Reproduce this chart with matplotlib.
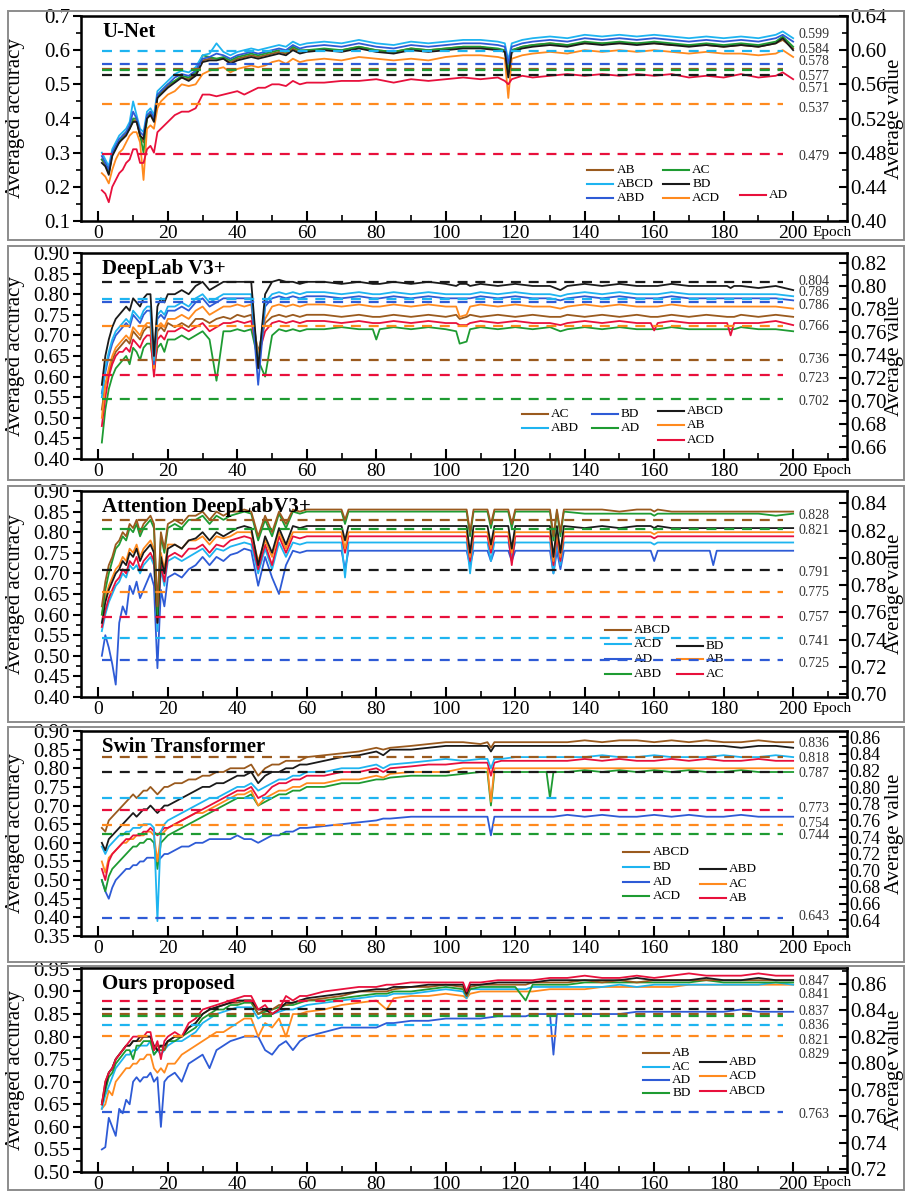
import matplotlib
matplotlib.use('Agg')
import matplotlib.pyplot as plt
from matplotlib.patches import Rectangle
from matplotlib.ticker import MultipleLocator, FormatStrFormatter

plt.rcParams['font.family'] = 'Liberation Serif'

W, H = 905, 1191

# first 60 epochs are shared, later epochs are listed per panel (they hold the dips)
epochs_head = list(range(1, 21)) + list(range(22, 61, 2))

COL = {
    'brown': '#9A5A1E', 'green': '#1E9B32', 'cyan': '#1EB4F0', 'black': '#1A1A1A',
    'blue': '#2E5BD6', 'orange': '#FF8A1E', 'red': '#E8103C',
}

# ---------------- U-Net ----------------
unet_late = [65, 70, 75, 80, 85, 90, 95, 100, 105, 110, 115, 117, 118, 119, 122, 125, 130, 135,
             140, 145, 150, 155, 160, 165, 170, 175, 180, 185, 190, 195, 197, 200]
unet_ABCD = [.30,.28,.26,.31,.33,.35,.36,.37,.39,.45,.41,.37,.36,.42,.43,.41,.48,.49,.50,.51,
             .53,.54,.535,.55,.585,.59,.62,.595,.585,.595,.60,.605,.60,.605,.61,.615,.61,.625,.615,.62,
             .625,.62,.63,.62,.615,.625,.62,.625,.63,.63,.625,.62,.57,.62,.63,.635,.64,.635,.645,.64,.645,.64,.645,.64,.635,.64,.635,.64,.635,.645,.655,.635]
unet_ABD = [.29,.27,.25,.30,.32,.34,.35,.36,.38,.42,.40,.36,.35,.41,.42,.40,.47,.48,.49,.50,
            .52,.53,.525,.54,.575,.58,.59,.585,.575,.585,.59,.595,.59,.595,.60,.605,.60,.615,.605,.61,
            .615,.61,.62,.61,.605,.615,.61,.615,.62,.62,.615,.61,.56,.61,.62,.625,.63,.625,.635,.63,.635,.63,.635,.63,.625,.63,.625,.63,.625,.635,.645,.625]
unet_AC = [.28,.27,.24,.30,.32,.33,.35,.36,.37,.40,.40,.35,.30,.40,.42,.40,.46,.48,.49,.50,
           .51,.525,.52,.535,.585,.58,.575,.58,.57,.58,.585,.59,.585,.59,.595,.60,.595,.61,.60,.60,
           .605,.60,.61,.60,.595,.605,.60,.605,.61,.61,.605,.60,.54,.60,.61,.615,.62,.615,.625,.62,.625,.62,.625,.62,.615,.62,.615,.62,.615,.625,.64,.61]
unet_BD = [.27,.26,.235,.29,.31,.33,.34,.35,.37,.39,.39,.35,.34,.40,.41,.39,.46,.47,.48,.49,
           .505,.52,.51,.525,.565,.57,.57,.575,.56,.57,.575,.58,.575,.58,.585,.59,.585,.60,.59,.595,
           .60,.595,.605,.595,.59,.60,.595,.60,.605,.605,.60,.595,.52,.595,.605,.61,.615,.61,.62,.615,.62,.615,.62,.615,.61,.615,.61,.615,.61,.62,.635,.60]
unet_AB = [.28,.265,.24,.295,.315,.33,.345,.355,.37,.395,.395,.35,.33,.405,.415,.395,.465,.475,.485,.495,
           .51,.52,.515,.53,.57,.575,.575,.575,.565,.575,.58,.585,.58,.585,.59,.595,.59,.605,.595,.60,
           .60,.60,.61,.60,.595,.605,.60,.605,.61,.61,.60,.60,.53,.60,.61,.615,.62,.615,.62,.62,.62,.62,.62,.615,.615,.615,.61,.615,.61,.62,.63,.605]
unet_ACD = [.24,.23,.21,.25,.28,.30,.31,.33,.35,.36,.36,.33,.22,.37,.38,.37,.43,.45,.46,.47,
            .48,.50,.495,.50,.53,.54,.545,.55,.535,.545,.55,.555,.55,.555,.565,.57,.56,.575,.565,.57,
            .575,.57,.58,.575,.57,.575,.57,.58,.585,.585,.58,.575,.46,.575,.585,.59,.595,.59,.60,.595,.60,.595,.60,.595,.59,.595,.59,.59,.585,.59,.60,.58]
unet_AD = [.19,.18,.155,.20,.22,.24,.25,.27,.28,.31,.31,.27,.27,.31,.32,.30,.36,.37,.38,.39,
           .41,.42,.42,.43,.47,.47,.465,.47,.475,.48,.47,.48,.49,.49,.50,.50,.495,.51,.50,.505,
           .505,.51,.51,.515,.505,.515,.51,.515,.52,.515,.52,.51,.50,.515,.525,.52,.525,.53,.525,.53,.525,.53,.525,.53,.52,.525,.52,.53,.52,.525,.535,.515]
unet_avg_names = ['ABCD', 'ABD', 'AB', 'AC', 'BD', 'ACD', 'AD']
unet_avg_vals = [0.599, 0.584, 0.578, 0.577, 0.571, 0.537, 0.479]

# ---------------- DeepLab V3+ ----------------
dl_late = [65, 70, 75, 79, 80, 81, 85, 90, 95, 100, 103, 104, 106, 107, 110, 115, 120, 125, 130,
           133, 135, 140, 145, 150, 155, 159, 160, 161, 165, 170, 175, 181, 182, 183, 185, 190, 195, 200]
dl_ABCD = [.58,.65,.69,.72,.74,.75,.76,.77,.76,.79,.78,.77,.79,.80,.80,.65,.77,.79,.78,.80,
           .80,.81,.80,.82,.83,.81,.82,.83,.83,.83,.83,.83,.62,.80,.83,.835,.83,.83,.825,.83,
           .83,.825,.83,.825,.825,.825,.83,.825,.83,.825,.82,.825,.825,.82,.825,.82,.825,.82,.82,.81,.82,.825,.82,.825,.82,.82,.82,.82,.825,.82,.82,.82,.815,.82,.82,.815,.82,.81]
dl_ABD = [.55,.62,.66,.69,.71,.72,.73,.74,.73,.76,.75,.74,.76,.77,.77,.64,.75,.76,.75,.77,
          .77,.78,.77,.79,.80,.78,.79,.80,.80,.80,.80,.80,.63,.78,.80,.805,.80,.805,.80,.805,
          .805,.80,.805,.80,.80,.80,.805,.80,.805,.80,.80,.80,.80,.80,.805,.80,.805,.80,.80,.795,.80,.805,.80,.805,.80,.80,.80,.80,.805,.80,.80,.80,.80,.80,.80,.80,.80,.795]
dl_BD = [.56,.61,.65,.68,.70,.71,.72,.73,.72,.75,.74,.73,.75,.76,.76,.63,.74,.75,.74,.76,
         .76,.77,.76,.78,.79,.77,.78,.79,.79,.79,.79,.79,.58,.77,.79,.795,.79,.795,.79,.795,
         .795,.79,.795,.79,.79,.79,.795,.79,.795,.79,.79,.79,.79,.79,.795,.79,.795,.79,.79,.785,.79,.795,.79,.795,.79,.79,.79,.79,.795,.79,.79,.79,.79,.79,.79,.79,.79,.785]
dl_AB = [.50,.58,.62,.65,.67,.68,.69,.70,.69,.72,.71,.70,.72,.73,.73,.62,.72,.73,.72,.74,
         .74,.75,.74,.76,.77,.75,.76,.77,.77,.775,.77,.775,.65,.74,.77,.775,.77,.775,.77,.775,
         .775,.77,.775,.77,.77,.77,.775,.77,.775,.77,.77,.745,.75,.77,.775,.77,.775,.77,.77,.765,.77,.775,.77,.775,.77,.77,.77,.77,.775,.77,.77,.77,.77,.77,.77,.77,.77,.765]
dl_AC = [.52,.58,.61,.64,.66,.67,.68,.69,.68,.71,.70,.69,.71,.72,.72,.61,.71,.72,.71,.73,
         .72,.73,.72,.74,.74,.73,.74,.745,.74,.75,.745,.75,.66,.73,.745,.75,.745,.75,.745,.75,
         .75,.745,.75,.745,.745,.745,.75,.745,.75,.745,.75,.74,.745,.75,.745,.75,.745,.75,.745,.745,.75,.745,.75,.745,.75,.745,.745,.745,.75,.745,.75,.745,.745,.745,.75,.745,.75,.745]
dl_ACD = [.48,.55,.60,.63,.65,.66,.66,.67,.66,.69,.68,.67,.69,.70,.70,.60,.69,.70,.69,.71,
          .71,.72,.71,.72,.73,.71,.72,.73,.73,.735,.73,.735,.65,.71,.73,.735,.73,.735,.73,.735,
          .735,.73,.735,.73,.73,.73,.735,.73,.735,.73,.73,.725,.725,.73,.735,.73,.735,.73,.73,.725,.73,.735,.73,.735,.73,.73,.712,.73,.735,.73,.73,.73,.70,.73,.73,.73,.735,.725]
dl_AD = [.44,.52,.57,.60,.62,.63,.64,.65,.63,.67,.66,.64,.67,.68,.68,.62,.67,.68,.66,.69,
         .69,.70,.69,.70,.71,.69,.59,.71,.71,.715,.71,.715,.64,.60,.70,.715,.71,.715,.71,.715,
         .715,.72,.715,.715,.69,.715,.72,.715,.72,.715,.71,.68,.685,.715,.72,.715,.72,.715,.72,.71,.715,.72,.715,.72,.715,.715,.715,.715,.72,.715,.715,.715,.715,.715,.72,.715,.715,.71]
dl_avg_names = ['ABCD', 'ABD', 'BD', 'AB', 'AC', 'ACD', 'AD']
dl_avg_vals = [0.804, 0.789, 0.786, 0.766, 0.736, 0.723, 0.702]

# ---------------- Attention DeepLabV3+ ----------------
at_late = [65, 70, 71, 72, 75, 80, 85, 90, 95, 100, 105, 106, 107, 108, 112, 113, 114, 118, 119, 120,
           125, 130, 131, 132, 133, 134, 140, 145, 150, 155, 159, 160, 161, 165, 170, 176, 177, 178,
           185, 190, 195, 200]
at_ABCD = [.62,.68,.72,.74,.77,.78,.80,.79,.82,.81,.83,.80,.82,.83,.84,.82,.62,.80,.76,.82,
           .83,.82,.84,.84,.85,.83,.85,.84,.85,.85,.855,.85,.79,.84,.80,.85,.82,.855,.85,.855,
           .855,.855,.83,.855,.855,.855,.855,.855,.855,.855,.855,.855,.80,.855,.855,.82,.855,.855,.82,.855,
           .855,.855,.79,.855,.80,.855,.855,.855,.85,.855,.855,.85,.855,.85,.85,.85,.85,.85,.85,.85,.85,.85]
at_ABD = [.60,.66,.70,.73,.76,.77,.79,.78,.81,.80,.82,.79,.81,.82,.83,.81,.60,.79,.75,.81,
          .82,.81,.83,.83,.84,.82,.84,.83,.84,.845,.85,.845,.78,.83,.79,.845,.81,.85,.845,.85,
          .85,.85,.82,.85,.85,.85,.85,.85,.85,.85,.85,.85,.79,.85,.85,.81,.85,.85,.81,.85,
          .85,.85,.78,.85,.79,.85,.845,.845,.845,.845,.845,.84,.845,.845,.845,.845,.845,.845,.845,.845,.84,.845]
at_BD = [.58,.63,.66,.68,.70,.71,.73,.72,.75,.74,.76,.73,.75,.76,.77,.75,.58,.74,.70,.76,
         .77,.76,.78,.785,.80,.78,.80,.79,.80,.81,.815,.81,.72,.79,.75,.81,.77,.815,.81,.815,
         .815,.815,.78,.815,.815,.815,.815,.815,.815,.815,.815,.815,.75,.815,.815,.77,.815,.815,.76,.815,
         .815,.815,.74,.815,.75,.815,.81,.815,.81,.815,.815,.81,.815,.81,.81,.81,.81,.81,.81,.81,.81,.81]
at_AB = [.60,.64,.67,.69,.71,.72,.74,.73,.76,.75,.77,.74,.76,.77,.78,.76,.60,.75,.71,.77,
         .77,.76,.78,.78,.79,.77,.79,.785,.79,.80,.80,.80,.73,.78,.74,.80,.76,.80,.80,.80,
         .80,.80,.76,.80,.80,.80,.80,.80,.80,.80,.80,.80,.74,.80,.80,.76,.80,.80,.75,.80,
         .80,.80,.73,.80,.74,.80,.80,.80,.80,.80,.80,.795,.80,.80,.80,.80,.80,.80,.80,.80,.80,.80]
at_AC = [.57,.61,.64,.66,.68,.69,.71,.70,.73,.72,.74,.71,.73,.74,.75,.73,.58,.72,.68,.74,
         .75,.74,.76,.76,.77,.75,.77,.765,.78,.785,.79,.785,.71,.77,.72,.79,.75,.79,.785,.79,
         .79,.79,.75,.79,.79,.79,.79,.79,.79,.79,.79,.79,.73,.79,.79,.75,.79,.79,.72,.79,
         .79,.79,.72,.79,.73,.79,.79,.79,.79,.79,.79,.785,.79,.79,.79,.79,.79,.79,.79,.79,.79,.79]
at_ACD = [.56,.60,.63,.65,.67,.68,.70,.69,.72,.71,.72,.70,.72,.73,.74,.72,.56,.71,.67,.73,
          .74,.73,.74,.75,.76,.74,.76,.755,.765,.77,.775,.77,.70,.76,.71,.775,.74,.775,.77,.775,
          .775,.775,.69,.775,.775,.775,.775,.775,.775,.775,.775,.775,.70,.775,.775,.73,.775,.775,.74,.775,
          .775,.775,.70,.775,.72,.775,.775,.775,.775,.775,.775,.77,.775,.775,.775,.775,.775,.775,.775,.775,.775,.775]
at_AD = [.50,.55,.52,.48,.43,.58,.62,.60,.67,.65,.68,.64,.66,.68,.70,.67,.47,.66,.62,.69,
         .70,.69,.71,.72,.74,.72,.74,.73,.745,.75,.76,.755,.67,.74,.69,.65,.72,.755,.75,.755,
         .755,.755,.71,.755,.755,.755,.755,.755,.755,.755,.755,.755,.72,.755,.755,.73,.755,.755,.73,.755,
         .755,.755,.70,.755,.71,.755,.755,.755,.755,.755,.755,.73,.755,.755,.755,.755,.72,.755,.755,.755,.755,.755]
at_avg_names = ['ABCD', 'ABD', 'BD', 'AB', 'AC', 'ACD', 'AD']
at_avg_vals = [0.828, 0.821, 0.791, 0.775, 0.757, 0.741, 0.725]

# ---------------- Swin Transformer ----------------
sw_late = [65, 70, 75, 80, 82, 84, 90, 95, 100, 105, 110, 112, 113, 114, 116, 120, 125, 129, 130, 131,
           135, 140, 145, 150, 155, 160, 165, 170, 175, 180, 185, 190, 195, 200]
sw_ABCD = [.64,.63,.66,.67,.68,.69,.70,.71,.72,.73,.72,.73,.74,.74,.75,.74,.73,.74,.75,.75,
           .76,.76,.77,.77,.78,.78,.79,.79,.80,.80,.80,.81,.78,.80,.81,.81,.82,.82,.82,.83,
           .835,.84,.845,.855,.85,.855,.86,.865,.87,.87,.865,.87,.855,.87,.87,.87,.87,.87,.87,.87,
           .87,.875,.87,.875,.875,.87,.875,.87,.875,.87,.87,.875,.87,.87]
sw_ABD = [.60,.58,.61,.62,.63,.64,.65,.66,.67,.68,.67,.68,.69,.69,.70,.69,.68,.69,.70,.70,
          .71,.72,.73,.74,.75,.75,.76,.76,.77,.78,.78,.79,.76,.78,.79,.79,.80,.80,.81,.81,
          .82,.83,.835,.845,.835,.85,.85,.855,.86,.86,.86,.86,.845,.86,.86,.86,.86,.86,.86,.86,
          .86,.86,.86,.86,.86,.86,.86,.86,.86,.86,.855,.86,.86,.855]
sw_BD = [.59,.57,.59,.60,.61,.62,.62,.63,.63,.64,.64,.64,.65,.65,.65,.64,.39,.63,.65,.66,
         .67,.68,.69,.70,.71,.72,.72,.73,.74,.75,.75,.76,.74,.75,.76,.77,.77,.78,.78,.79,
         .79,.80,.80,.81,.80,.81,.815,.82,.825,.82,.825,.825,.80,.825,.825,.83,.83,.83,.83,.83,
         .83,.83,.835,.83,.83,.835,.83,.83,.83,.835,.83,.83,.835,.83]
sw_AB = [.53,.50,.55,.57,.58,.59,.60,.61,.61,.62,.62,.62,.63,.63,.64,.63,.62,.63,.64,.64,
         .65,.66,.67,.68,.69,.70,.71,.72,.73,.74,.74,.75,.72,.73,.75,.76,.76,.77,.77,.78,
         .78,.79,.79,.80,.79,.80,.805,.81,.81,.815,.815,.815,.78,.815,.82,.82,.82,.82,.82,.82,
         .82,.825,.82,.825,.82,.82,.825,.82,.825,.82,.82,.825,.82,.82]
sw_AC = [.55,.52,.56,.57,.58,.59,.60,.60,.61,.61,.62,.62,.62,.63,.63,.62,.55,.62,.63,.64,
         .65,.66,.67,.68,.68,.69,.70,.71,.72,.73,.73,.74,.70,.72,.73,.74,.74,.75,.75,.76,
         .76,.77,.77,.78,.775,.785,.79,.79,.79,.80,.80,.80,.71,.80,.80,.80,.80,.80,.80,.80,
         .80,.80,.80,.80,.80,.80,.80,.80,.80,.80,.80,.80,.80,.80]
sw_ACD = [.50,.47,.51,.53,.54,.55,.56,.57,.58,.59,.59,.60,.60,.61,.61,.60,.53,.60,.61,.62,
          .63,.64,.65,.66,.67,.68,.69,.70,.71,.72,.72,.73,.70,.71,.72,.73,.73,.74,.74,.75,
          .75,.76,.76,.77,.77,.775,.78,.78,.78,.785,.79,.79,.70,.79,.79,.79,.79,.79,.72,.79,
          .79,.795,.79,.795,.79,.795,.79,.795,.79,.79,.795,.79,.79,.79]
sw_AD = [.50,.47,.45,.48,.50,.51,.52,.53,.53,.54,.54,.55,.55,.56,.56,.56,.55,.56,.57,.57,
         .58,.59,.59,.60,.60,.61,.61,.61,.61,.62,.61,.61,.60,.61,.62,.62,.63,.63,.64,.64,
         .645,.65,.655,.66,.665,.665,.67,.67,.67,.67,.67,.67,.62,.67,.67,.67,.67,.67,.67,.67,
         .675,.67,.675,.67,.67,.675,.67,.675,.67,.67,.675,.67,.67,.67]
sw_avg_names = ['ABCD', 'ABD', 'BD', 'AB', 'AC', 'ACD', 'AD']
sw_avg_vals = [0.836, 0.818, 0.787, 0.773, 0.754, 0.744, 0.643]

# ---------------- Ours proposed ----------------
our_late = [65, 70, 75, 80, 83, 85, 90, 95, 100, 105, 106, 107, 110, 115, 120, 123, 125, 130, 131, 132,
            135, 140, 145, 150, 155, 160, 165, 170, 175, 180, 185, 190, 195, 200]
our_ABCD = [.65,.70,.72,.73,.75,.76,.77,.78,.79,.80,.80,.80,.80,.81,.81,.77,.79,.75,.79,.80,
            .81,.80,.83,.84,.86,.865,.87,.875,.88,.885,.89,.89,.86,.87,.85,.86,.89,.88,.89,.89,
            .90,.905,.91,.91,.915,.915,.92,.92,.92,.92,.90,.92,.92,.925,.925,.925,.925,.93,.93,.93,
            .93,.935,.93,.93,.935,.93,.935,.94,.935,.935,.935,.94,.935,.935]
our_ABD = [.65,.69,.72,.73,.75,.76,.77,.78,.78,.79,.79,.80,.80,.80,.80,.78,.77,.78,.78,.79,
           .80,.80,.82,.83,.85,.86,.865,.87,.875,.88,.88,.88,.86,.86,.85,.86,.875,.875,.88,.885,
           .89,.895,.90,.905,.905,.91,.91,.915,.915,.915,.895,.915,.915,.92,.92,.92,.92,.925,.925,.925,
           .925,.925,.925,.925,.93,.925,.925,.925,.93,.925,.925,.93,.925,.925]
our_AB = [.65,.70,.72,.73,.75,.76,.77,.78,.78,.79,.79,.79,.80,.80,.80,.77,.78,.78,.77,.79,
          .80,.80,.82,.83,.85,.86,.865,.87,.875,.875,.88,.88,.85,.86,.86,.87,.87,.875,.88,.88,
          .885,.89,.90,.90,.90,.905,.91,.91,.915,.91,.89,.91,.915,.915,.915,.915,.92,.92,.92,.92,
          .92,.925,.92,.925,.92,.925,.925,.925,.925,.925,.925,.925,.925,.925]
our_BD = [.65,.68,.71,.72,.74,.75,.76,.77,.77,.75,.78,.78,.79,.79,.79,.76,.77,.77,.77,.79,
          .79,.80,.81,.82,.84,.85,.86,.86,.87,.87,.875,.875,.85,.855,.86,.865,.87,.87,.875,.88,
          .88,.885,.89,.895,.895,.90,.90,.905,.91,.905,.89,.905,.91,.91,.91,.88,.915,.915,.915,.915,
          .915,.92,.92,.92,.92,.92,.92,.92,.925,.92,.92,.92,.92,.92]
our_AC = [.64,.67,.69,.71,.73,.74,.75,.76,.76,.77,.77,.78,.78,.78,.79,.76,.77,.76,.77,.78,
          .79,.79,.80,.81,.83,.84,.85,.855,.86,.865,.865,.865,.84,.85,.85,.855,.86,.86,.865,.87,
          .875,.88,.885,.89,.89,.895,.895,.90,.905,.90,.885,.905,.905,.905,.905,.905,.91,.91,.91,.91,
          .91,.91,.91,.915,.91,.915,.915,.915,.915,.915,.915,.915,.92,.915]
our_ACD = [.64,.65,.68,.67,.70,.71,.72,.73,.73,.74,.74,.75,.75,.76,.76,.73,.72,.73,.72,.74,
           .74,.76,.77,.78,.79,.80,.81,.81,.82,.83,.84,.84,.80,.83,.82,.84,.80,.85,.85,.855,
           .86,.87,.875,.88,.86,.885,.89,.89,.895,.89,.885,.895,.90,.90,.90,.90,.90,.905,.905,.905,
           .905,.905,.91,.91,.91,.91,.91,.915,.915,.915,.915,.915,.915,.915]
our_AD = [.55,.555,.62,.60,.58,.64,.63,.66,.65,.70,.71,.70,.71,.71,.72,.70,.71,.60,.70,.71,
          .72,.70,.74,.75,.76,.73,.77,.78,.79,.795,.80,.80,.80,.77,.76,.78,.79,.77,.79,.80,
          .81,.82,.82,.82,.83,.83,.835,.835,.84,.84,.84,.84,.84,.845,.845,.845,.85,.85,.76,.85,
          .85,.85,.85,.85,.855,.855,.855,.855,.855,.855,.86,.855,.855,.855]
our_avg_names = ['ABCD', 'ABD', 'AB', 'BD', 'ACD', 'AC', 'AD']
our_avg_vals = [0.847, 0.841, 0.837, 0.836, 0.821, 0.829, 0.763]


panels = [
    dict(title='U-Net', top=16, bottom=221, frame=(11, 240), late=unet_late,
         series=[('AB', unet_AB), ('AC', unet_AC), ('ABCD', unet_ABCD), ('ACD', unet_ACD),
                 ('AD', unet_AD), ('ABD', unet_ABD), ('BD', unet_BD)],
         colors={'AB': 'brown', 'AC': 'green', 'ABCD': 'cyan', 'BD': 'black',
                 'ABD': 'blue', 'ACD': 'orange', 'AD': 'red'},
         avg=(unet_avg_names, unet_avg_vals),
         ylim=(0.1, 0.7), ystep=0.1, yfmt='%.1f', rlim=(0.40, 0.64), rstep=0.04, rsize=15,
         label_y=[.912, .839, .776, .707, .644, .551, .317],
         legend=[('AB', .661, .249), ('AC', .760, .249), ('ABCD', .661, .180), ('BD', .760, .180),
                 ('ABD', .661, .112), ('ACD', .760, .112), ('AD', .860, .127)]),
    dict(title='DeepLab V3+', top=253, bottom=459, frame=(246, 480), late=dl_late,
         series=[('AC', dl_AC), ('AD', dl_AD), ('ACD', dl_ACD), ('AB', dl_AB),
                 ('BD', dl_BD), ('ABD', dl_ABD), ('ABCD', dl_ABCD)],
         colors={'AC': 'brown', 'BD': 'blue', 'ABCD': 'black', 'ABD': 'cyan',
                 'AD': 'green', 'AB': 'orange', 'ACD': 'red'},
         avg=(dl_avg_names, dl_avg_vals),
         ylim=(0.40, 0.90), ystep=0.05, yfmt='%.2f', rlim=(0.650, 0.829), rstep=0.02, rsize=15,
         label_y=[.864, .806, .743, .641, .485, .393, .277],
         legend=[('AC', .576, .218), ('BD', .667, .218), ('ABCD', .753, .233),
                 ('ABD', .576, .150), ('AD', .667, .150), ('AB', .753, .165), ('ACD', .753, .092)]),
    dict(title='Attention DeepLabV3+', top=491, bottom=697, frame=(486, 722), late=at_late,
         series=[('AD', at_AD), ('ACD', at_ACD), ('AC', at_AC), ('AB', at_AB),
                 ('BD', at_BD), ('ABD', at_ABD), ('ABCD', at_ABCD)],
         colors={'ABCD': 'brown', 'ACD': 'cyan', 'AD': 'blue', 'ABD': 'green',
                 'BD': 'black', 'AB': 'orange', 'AC': 'red'},
         avg=(at_avg_names, at_avg_vals),
         ylim=(0.40, 0.90), ystep=0.05, yfmt='%.2f', rlim=(0.698, 0.849), rstep=0.02, rsize=15,
         label_y=[.883, .806, .602, .505, .384, .267, .165],
         legend=[('ABCD', .684, .325), ('ACD', .684, .257), ('AD', .684, .184), ('ABD', .684, .112),
                 ('BD', .778, .248), ('AB', .778, .184), ('AC', .778, .112)]),
    dict(title='Swin Transformer', top=731, bottom=936, frame=(727, 962), late=sw_late,
         series=[('AD', sw_AD), ('ACD', sw_ACD), ('AC', sw_AC), ('AB', sw_AB),
                 ('BD', sw_BD), ('ABD', sw_ABD), ('ABCD', sw_ABCD)],
         colors={'ABCD': 'brown', 'BD': 'cyan', 'AD': 'blue', 'ACD': 'green',
                 'ABD': 'black', 'AC': 'orange', 'AB': 'red'},
         avg=(sw_avg_names, sw_avg_vals),
         ylim=(0.35, 0.90), ystep=0.05, yfmt='%.2f', rlim=(0.621, 0.8676), rstep=0.02, rsize=13,
         label_y=[.937, .868, .795, .624, .551, .488, .093],
         legend=[('ABCD', .708, .410), ('BD', .708, .337), ('AD', .708, .263), ('ACD', .708, .195),
                 ('ABD', .808, .327), ('AC', .808, .254), ('AB', .808, .185)]),
    dict(title='Ours proposed', top=968, bottom=1172, frame=(966, 1190), late=our_late,
         series=[('AD', our_AD), ('ACD', our_ACD), ('AC', our_AC), ('BD', our_BD),
                 ('AB', our_AB), ('ABD', our_ABD), ('ABCD', our_ABCD)],
         colors={'AB': 'brown', 'AC': 'cyan', 'AD': 'blue', 'BD': 'green',
                 'ABD': 'black', 'ACD': 'orange', 'ABCD': 'red'},
         avg=(our_avg_names, our_avg_vals),
         ylim=(0.50, 0.952), ystep=0.05, yfmt='%.2f', rlim=(0.718, 0.872), rstep=0.02, rsize=15,
         label_y=[.936, .868, .789, .716, .647, .578, .284],
         legend=[('AB', .734, .583), ('AC', .734, .515), ('AD', .734, .451), ('BD', .734, .386),
                 ('ABD', .808, .539), ('ACD', .808, .471), ('ABCD', .808, .398)]),
]

fig = plt.figure(figsize=(W / 100, H / 100), dpi=100)

for p in panels:
    # grey frame around the panel
    f0, f1 = p['frame']
    fig.add_artist(Rectangle((8 / W, 1 - f1 / H), (W - 9) / W, (f1 - f0) / H,
                             transform=fig.transFigure, fill=False,
                             edgecolor='#8c8c8c', lw=1.4))

    ax = fig.add_axes([81 / W, 1 - p['bottom'] / H, 766 / W, (p['bottom'] - p['top']) / H])
    cols = {k: COL[v] for k, v in p['colors'].items()}
    ep = epochs_head + p['late']
    for name, vals in p['series']:
        ax.plot(ep, vals, color=cols[name], lw=1.3, zorder=3)

    ax.set_xlim(-5, 215.5)
    ax.set_ylim(*p['ylim'])
    ax.xaxis.set_major_locator(MultipleLocator(20))
    ax.xaxis.set_minor_locator(MultipleLocator(10))
    ax.yaxis.set_major_locator(MultipleLocator(p['ystep']))
    ax.yaxis.set_minor_locator(MultipleLocator(p['ystep'] / 2))
    ax.yaxis.set_major_formatter(FormatStrFormatter(p['yfmt']))
    ax.tick_params(axis='x', which='major', direction='in', length=7, width=1.5,
                   labelsize=14, pad=3)
    ax.tick_params(axis='x', which='minor', direction='in', length=4, width=1.2)
    ax.tick_params(axis='y', which='major', direction='out', length=6, width=1.5,
                   labelsize=15, pad=2)
    ax.tick_params(axis='y', which='minor', direction='out', length=3.5, width=1.2)
    for s in ax.spines.values():
        s.set_linewidth(1.8)
    ax.set_ylabel('Averaged accuracy', fontsize=15)
    ax.yaxis.set_label_coords(-0.073, 0.5)

    ax2 = ax.twinx()
    ax2.set_ylim(*p['rlim'])
    ax2.yaxis.set_major_locator(MultipleLocator(p['rstep']))
    ax2.yaxis.set_minor_locator(MultipleLocator(p['rstep'] / 2))
    ax2.yaxis.set_major_formatter(FormatStrFormatter('%.2f'))
    ax2.tick_params(axis='y', which='major', direction='in', length=6, width=1.5,
                    labelsize=p['rsize'], pad=2)
    ax2.tick_params(axis='y', which='minor', direction='in', length=3.5, width=1.2)
    ax2.set_ylabel('Average value', fontsize=15)
    ax2.yaxis.set_label_coords(1.05, 0.5)

    names, vals = p['avg']
    for name, v, ly in zip(names, vals, p['label_y']):
        ax2.hlines(v, 1, 197, colors=cols[name], linestyles=(0, (4.5, 3.5)), lw=1.6, zorder=2)
        ax.text(0.937, ly, f'{v:.3f}', transform=ax.transAxes, fontsize=10,
                color='#333333', ha='left', va='center', zorder=5)

    # hand placed legend
    for name, lx, ly in p['legend']:
        ax.plot([lx, lx + 0.034], [ly, ly], color=cols[name], lw=1.5,
                transform=ax.transAxes, clip_on=False, zorder=5)
        ax.text(lx + 0.038, ly, name, transform=ax.transAxes, fontsize=9.5,
                ha='left', va='center', zorder=5)

    ax.text(0.028, 0.92, p['title'], transform=ax.transAxes, fontsize=15,
            fontweight='bold', ha='left', va='center', zorder=6)
    ax.text(0.955, -0.022, 'Epoch', transform=ax.transAxes, fontsize=11,
            ha='left', va='top')

fig.savefig('out.png', dpi=100)
